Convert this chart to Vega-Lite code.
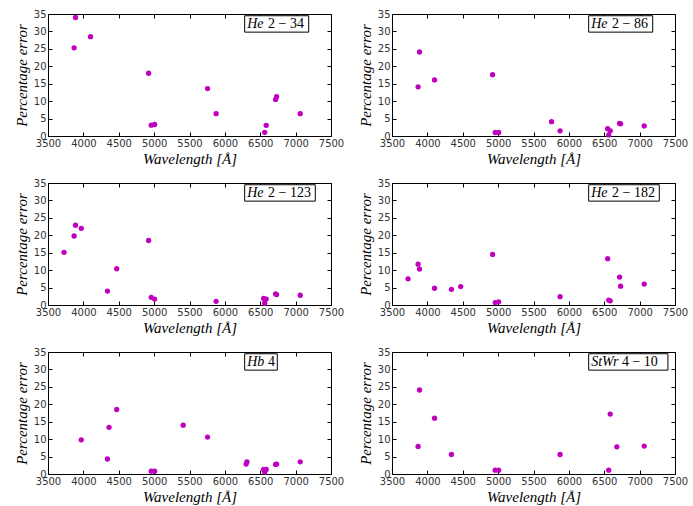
{
  "$schema": "https://vega.github.io/schema/vega-lite/v6.json",
  "background": "white",
  "padding": {"left": 13, "top": 8, "right": 5, "bottom": 0},
  "datasets": {
    "pts": [
      {"panel": "p1", "wavelength": 3869, "error": 25.3},
      {"panel": "p1", "wavelength": 3889, "error": 34.0},
      {"panel": "p1", "wavelength": 4101, "error": 28.5},
      {"panel": "p1", "wavelength": 4922, "error": 18.0},
      {"panel": "p1", "wavelength": 4959, "error": 3.1},
      {"panel": "p1", "wavelength": 5007, "error": 3.3},
      {"panel": "p1", "wavelength": 5755, "error": 13.6},
      {"panel": "p1", "wavelength": 5876, "error": 6.4},
      {"panel": "p1", "wavelength": 6563, "error": 1.05},
      {"panel": "p1", "wavelength": 6584, "error": 3.05},
      {"panel": "p1", "wavelength": 6717, "error": 10.5},
      {"panel": "p1", "wavelength": 6731, "error": 11.3},
      {"panel": "p1", "wavelength": 7065, "error": 6.4},

      {"panel": "p2", "wavelength": 3869, "error": 14.1},
      {"panel": "p2", "wavelength": 3889, "error": 24.1},
      {"panel": "p2", "wavelength": 4101, "error": 16.1},
      {"panel": "p2", "wavelength": 4922, "error": 17.6},
      {"panel": "p2", "wavelength": 4959, "error": 1.0},
      {"panel": "p2", "wavelength": 5007, "error": 1.0},
      {"panel": "p2", "wavelength": 5755, "error": 4.1},
      {"panel": "p2", "wavelength": 5876, "error": 1.5},
      {"panel": "p2", "wavelength": 6548, "error": 2.1},
      {"panel": "p2", "wavelength": 6563, "error": 0.3},
      {"panel": "p2", "wavelength": 6584, "error": 1.5},
      {"panel": "p2", "wavelength": 6717, "error": 3.6},
      {"panel": "p2", "wavelength": 6731, "error": 3.5},
      {"panel": "p2", "wavelength": 7065, "error": 2.9},

      {"panel": "p3", "wavelength": 3727, "error": 15.1},
      {"panel": "p3", "wavelength": 3869, "error": 19.8},
      {"panel": "p3", "wavelength": 3889, "error": 22.9},
      {"panel": "p3", "wavelength": 3970, "error": 22.0},
      {"panel": "p3", "wavelength": 4340, "error": 4.0},
      {"panel": "p3", "wavelength": 4471, "error": 10.4},
      {"panel": "p3", "wavelength": 4922, "error": 18.5},
      {"panel": "p3", "wavelength": 4959, "error": 2.2},
      {"panel": "p3", "wavelength": 5007, "error": 1.7},
      {"panel": "p3", "wavelength": 5876, "error": 1.05},
      {"panel": "p3", "wavelength": 6548, "error": 1.9},
      {"panel": "p3", "wavelength": 6563, "error": 0.5},
      {"panel": "p3", "wavelength": 6584, "error": 1.7},
      {"panel": "p3", "wavelength": 6717, "error": 3.2},
      {"panel": "p3", "wavelength": 6731, "error": 3.0},
      {"panel": "p3", "wavelength": 7065, "error": 2.8},

      {"panel": "p4", "wavelength": 3727, "error": 7.5},
      {"panel": "p4", "wavelength": 3869, "error": 11.7},
      {"panel": "p4", "wavelength": 3889, "error": 10.3},
      {"panel": "p4", "wavelength": 4101, "error": 4.8},
      {"panel": "p4", "wavelength": 4340, "error": 4.5},
      {"panel": "p4", "wavelength": 4471, "error": 5.3},
      {"panel": "p4", "wavelength": 4922, "error": 14.5},
      {"panel": "p4", "wavelength": 4959, "error": 0.7},
      {"panel": "p4", "wavelength": 5007, "error": 0.9},
      {"panel": "p4", "wavelength": 5876, "error": 2.4},
      {"panel": "p4", "wavelength": 6548, "error": 13.3},
      {"panel": "p4", "wavelength": 6563, "error": 1.4},
      {"panel": "p4", "wavelength": 6584, "error": 1.2},
      {"panel": "p4", "wavelength": 6717, "error": 8.0},
      {"panel": "p4", "wavelength": 6731, "error": 5.4},
      {"panel": "p4", "wavelength": 7065, "error": 6.0},

      {"panel": "p5", "wavelength": 3970, "error": 9.8},
      {"panel": "p5", "wavelength": 4340, "error": 4.3},
      {"panel": "p5", "wavelength": 4363, "error": 13.4},
      {"panel": "p5", "wavelength": 4471, "error": 18.5},
      {"panel": "p5", "wavelength": 4959, "error": 0.8},
      {"panel": "p5", "wavelength": 5007, "error": 0.8},
      {"panel": "p5", "wavelength": 5411, "error": 14.0},
      {"panel": "p5", "wavelength": 5755, "error": 10.6},
      {"panel": "p5", "wavelength": 6300, "error": 2.85},
      {"panel": "p5", "wavelength": 6312, "error": 3.5},
      {"panel": "p5", "wavelength": 6548, "error": 1.3},
      {"panel": "p5", "wavelength": 6563, "error": 0.6},
      {"panel": "p5", "wavelength": 6584, "error": 1.3},
      {"panel": "p5", "wavelength": 6717, "error": 2.75},
      {"panel": "p5", "wavelength": 6731, "error": 2.85},
      {"panel": "p5", "wavelength": 7065, "error": 3.5},

      {"panel": "p6", "wavelength": 3869, "error": 7.9},
      {"panel": "p6", "wavelength": 3889, "error": 24.1},
      {"panel": "p6", "wavelength": 4101, "error": 16.0},
      {"panel": "p6", "wavelength": 4340, "error": 5.6},
      {"panel": "p6", "wavelength": 4959, "error": 1.1},
      {"panel": "p6", "wavelength": 5007, "error": 1.1},
      {"panel": "p6", "wavelength": 5876, "error": 5.6},
      {"panel": "p6", "wavelength": 6563, "error": 1.1},
      {"panel": "p6", "wavelength": 6584, "error": 17.2},
      {"panel": "p6", "wavelength": 6678, "error": 7.8},
      {"panel": "p6", "wavelength": 7065, "error": 8.0}
    ],
    "labels": [
      {"panel": "p1", "name": "He", "num": "2 − 34"},
      {"panel": "p2", "name": "He", "num": "2 − 86"},
      {"panel": "p3", "name": "He", "num": "2 − 123"},
      {"panel": "p4", "name": "He", "num": "2 − 182"},
      {"panel": "p5", "name": "Hb", "num": "4"},
      {"panel": "p6", "name": "StWr", "num": "4 − 10"}
    ]
  },
  "config": {
    "view": {"stroke": "black", "strokeWidth": 1},
    "axis": {
      "grid": false,
      "domain": false,
      "tickSize": -4,
      "tickColor": "black",
      "tickWidth": 1,
      "labelFont": "DejaVu Sans",
      "labelFontSize": 10,
      "labelColor": "#333333",
      "labelOverlap": false,
      "labelFlush": false,
      "format": "d",
      "titleFont": "Liberation Serif",
      "titleFontStyle": "italic",
      "titleFontWeight": "normal",
      "titleFontSize": 15,
      "titleColor": "black"
    },
    "axisX": {"labelPadding": 6, "titlePadding": 3},
    "axisY": {"labelPadding": 6, "titlePadding": 4},
    "circle": {"size": 28, "color": "#bf00bf", "opacity": 1},
    "rect": {"fill": "white", "stroke": "black", "strokeWidth": 1},
    "text": {"font": "Liberation Serif", "fontSize": 14, "align": "left", "baseline": "middle", "color": "black"}
  },
  "spacing": 10,
  "vconcat": [
    {
      "spacing": 12,
      "hconcat": [
        {
          "width": 283, "height": 122,
          "resolve": {"axis": {"x": "independent", "y": "independent"}},
          "layer": [
            {"data": {"name": "pts"}, "transform": [{"filter": "datum.panel === 'p1'"}], "mark": "circle",
             "encoding": {
               "x": {"field": "wavelength", "type": "quantitative", "scale": {"domain": [3500, 7500], "nice": false}, "axis": {"title": "Wavelength [Å]", "values": [3500, 4000, 4500, 5000, 5500, 6000, 6500, 7000, 7500]}},
               "y": {"field": "error", "type": "quantitative", "scale": {"domain": [0, 35], "nice": false}, "axis": {"title": "Percentage error", "values": [0, 5, 10, 15, 20, 25, 30, 35]}}
             }},
            {"data": {"name": "labels"}, "transform": [{"filter": "datum.panel === 'p1'"}], "mark": "rect",
             "encoding": {
               "x": {"datum": 6280, "type": "quantitative", "axis": {"orient": "top", "labels": false, "title": null, "values": [3500, 4000, 4500, 5000, 5500, 6000, 6500, 7000, 7500]}},
               "x2": {"datum": 7185},
               "y": {"datum": 34.5, "type": "quantitative", "axis": {"orient": "right", "labels": false, "title": null, "values": [0, 5, 10, 15, 20, 25, 30, 35]}},
               "y2": {"datum": 29.8}
             }},
            {"data": {"name": "labels"}, "transform": [{"filter": "datum.panel === 'p1'"}], "mark": {"type": "text", "fontStyle": "italic"},
             "encoding": {"x": {"datum": 6315, "type": "quantitative", "axis": null}, "y": {"datum": 32.1, "type": "quantitative", "axis": null}, "text": {"field": "name"}}},
            {"data": {"name": "labels"}, "transform": [{"filter": "datum.panel === 'p1'"}], "mark": {"type": "text"},
             "encoding": {"x": {"datum": 6610, "type": "quantitative", "axis": null}, "y": {"datum": 32.1, "type": "quantitative", "axis": null}, "text": {"field": "num"}}}
          ]
        },
        {
          "width": 283, "height": 122,
          "resolve": {"axis": {"x": "independent", "y": "independent"}},
          "layer": [
            {"data": {"name": "pts"}, "transform": [{"filter": "datum.panel === 'p2'"}], "mark": "circle",
             "encoding": {
               "x": {"field": "wavelength", "type": "quantitative", "scale": {"domain": [3500, 7500], "nice": false}, "axis": {"title": "Wavelength [Å]", "values": [3500, 4000, 4500, 5000, 5500, 6000, 6500, 7000, 7500]}},
               "y": {"field": "error", "type": "quantitative", "scale": {"domain": [0, 35], "nice": false}, "axis": {"title": "Percentage error", "values": [0, 5, 10, 15, 20, 25, 30, 35]}}
             }},
            {"data": {"name": "labels"}, "transform": [{"filter": "datum.panel === 'p2'"}], "mark": "rect",
             "encoding": {
               "x": {"datum": 6280, "type": "quantitative", "axis": {"orient": "top", "labels": false, "title": null, "values": [3500, 4000, 4500, 5000, 5500, 6000, 6500, 7000, 7500]}},
               "x2": {"datum": 7185},
               "y": {"datum": 34.5, "type": "quantitative", "axis": {"orient": "right", "labels": false, "title": null, "values": [0, 5, 10, 15, 20, 25, 30, 35]}},
               "y2": {"datum": 29.8}
             }},
            {"data": {"name": "labels"}, "transform": [{"filter": "datum.panel === 'p2'"}], "mark": {"type": "text", "fontStyle": "italic"},
             "encoding": {"x": {"datum": 6315, "type": "quantitative", "axis": null}, "y": {"datum": 32.1, "type": "quantitative", "axis": null}, "text": {"field": "name"}}},
            {"data": {"name": "labels"}, "transform": [{"filter": "datum.panel === 'p2'"}], "mark": {"type": "text"},
             "encoding": {"x": {"datum": 6610, "type": "quantitative", "axis": null}, "y": {"datum": 32.1, "type": "quantitative", "axis": null}, "text": {"field": "num"}}}
          ]
        }
      ]
    },
    {
      "spacing": 12,
      "hconcat": [
        {
          "width": 283, "height": 122,
          "resolve": {"axis": {"x": "independent", "y": "independent"}},
          "layer": [
            {"data": {"name": "pts"}, "transform": [{"filter": "datum.panel === 'p3'"}], "mark": "circle",
             "encoding": {
               "x": {"field": "wavelength", "type": "quantitative", "scale": {"domain": [3500, 7500], "nice": false}, "axis": {"title": "Wavelength [Å]", "values": [3500, 4000, 4500, 5000, 5500, 6000, 6500, 7000, 7500]}},
               "y": {"field": "error", "type": "quantitative", "scale": {"domain": [0, 35], "nice": false}, "axis": {"title": "Percentage error", "values": [0, 5, 10, 15, 20, 25, 30, 35]}}
             }},
            {"data": {"name": "labels"}, "transform": [{"filter": "datum.panel === 'p3'"}], "mark": "rect",
             "encoding": {
               "x": {"datum": 6280, "type": "quantitative", "axis": {"orient": "top", "labels": false, "title": null, "values": [3500, 4000, 4500, 5000, 5500, 6000, 6500, 7000, 7500]}},
               "x2": {"datum": 7278},
               "y": {"datum": 34.5, "type": "quantitative", "axis": {"orient": "right", "labels": false, "title": null, "values": [0, 5, 10, 15, 20, 25, 30, 35]}},
               "y2": {"datum": 29.8}
             }},
            {"data": {"name": "labels"}, "transform": [{"filter": "datum.panel === 'p3'"}], "mark": {"type": "text", "fontStyle": "italic"},
             "encoding": {"x": {"datum": 6315, "type": "quantitative", "axis": null}, "y": {"datum": 32.1, "type": "quantitative", "axis": null}, "text": {"field": "name"}}},
            {"data": {"name": "labels"}, "transform": [{"filter": "datum.panel === 'p3'"}], "mark": {"type": "text"},
             "encoding": {"x": {"datum": 6610, "type": "quantitative", "axis": null}, "y": {"datum": 32.1, "type": "quantitative", "axis": null}, "text": {"field": "num"}}}
          ]
        },
        {
          "width": 283, "height": 122,
          "resolve": {"axis": {"x": "independent", "y": "independent"}},
          "layer": [
            {"data": {"name": "pts"}, "transform": [{"filter": "datum.panel === 'p4'"}], "mark": "circle",
             "encoding": {
               "x": {"field": "wavelength", "type": "quantitative", "scale": {"domain": [3500, 7500], "nice": false}, "axis": {"title": "Wavelength [Å]", "values": [3500, 4000, 4500, 5000, 5500, 6000, 6500, 7000, 7500]}},
               "y": {"field": "error", "type": "quantitative", "scale": {"domain": [0, 35], "nice": false}, "axis": {"title": "Percentage error", "values": [0, 5, 10, 15, 20, 25, 30, 35]}}
             }},
            {"data": {"name": "labels"}, "transform": [{"filter": "datum.panel === 'p4'"}], "mark": "rect",
             "encoding": {
               "x": {"datum": 6280, "type": "quantitative", "axis": {"orient": "top", "labels": false, "title": null, "values": [3500, 4000, 4500, 5000, 5500, 6000, 6500, 7000, 7500]}},
               "x2": {"datum": 7278},
               "y": {"datum": 34.5, "type": "quantitative", "axis": {"orient": "right", "labels": false, "title": null, "values": [0, 5, 10, 15, 20, 25, 30, 35]}},
               "y2": {"datum": 29.8}
             }},
            {"data": {"name": "labels"}, "transform": [{"filter": "datum.panel === 'p4'"}], "mark": {"type": "text", "fontStyle": "italic"},
             "encoding": {"x": {"datum": 6315, "type": "quantitative", "axis": null}, "y": {"datum": 32.1, "type": "quantitative", "axis": null}, "text": {"field": "name"}}},
            {"data": {"name": "labels"}, "transform": [{"filter": "datum.panel === 'p4'"}], "mark": {"type": "text"},
             "encoding": {"x": {"datum": 6610, "type": "quantitative", "axis": null}, "y": {"datum": 32.1, "type": "quantitative", "axis": null}, "text": {"field": "num"}}}
          ]
        }
      ]
    },
    {
      "spacing": 12,
      "hconcat": [
        {
          "width": 283, "height": 122,
          "resolve": {"axis": {"x": "independent", "y": "independent"}},
          "layer": [
            {"data": {"name": "pts"}, "transform": [{"filter": "datum.panel === 'p5'"}], "mark": "circle",
             "encoding": {
               "x": {"field": "wavelength", "type": "quantitative", "scale": {"domain": [3500, 7500], "nice": false}, "axis": {"title": "Wavelength [Å]", "values": [3500, 4000, 4500, 5000, 5500, 6000, 6500, 7000, 7500]}},
               "y": {"field": "error", "type": "quantitative", "scale": {"domain": [0, 35], "nice": false}, "axis": {"title": "Percentage error", "values": [0, 5, 10, 15, 20, 25, 30, 35]}}
             }},
            {"data": {"name": "labels"}, "transform": [{"filter": "datum.panel === 'p5'"}], "mark": "rect",
             "encoding": {
               "x": {"datum": 6280, "type": "quantitative", "axis": {"orient": "top", "labels": false, "title": null, "values": [3500, 4000, 4500, 5000, 5500, 6000, 6500, 7000, 7500]}},
               "x2": {"datum": 6741},
               "y": {"datum": 34.5, "type": "quantitative", "axis": {"orient": "right", "labels": false, "title": null, "values": [0, 5, 10, 15, 20, 25, 30, 35]}},
               "y2": {"datum": 29.8}
             }},
            {"data": {"name": "labels"}, "transform": [{"filter": "datum.panel === 'p5'"}], "mark": {"type": "text", "fontStyle": "italic"},
             "encoding": {"x": {"datum": 6315, "type": "quantitative", "axis": null}, "y": {"datum": 32.1, "type": "quantitative", "axis": null}, "text": {"field": "name"}}},
            {"data": {"name": "labels"}, "transform": [{"filter": "datum.panel === 'p5'"}], "mark": {"type": "text"},
             "encoding": {"x": {"datum": 6610, "type": "quantitative", "axis": null}, "y": {"datum": 32.1, "type": "quantitative", "axis": null}, "text": {"field": "num"}}}
          ]
        },
        {
          "width": 283, "height": 122,
          "resolve": {"axis": {"x": "independent", "y": "independent"}},
          "layer": [
            {"data": {"name": "pts"}, "transform": [{"filter": "datum.panel === 'p6'"}], "mark": "circle",
             "encoding": {
               "x": {"field": "wavelength", "type": "quantitative", "scale": {"domain": [3500, 7500], "nice": false}, "axis": {"title": "Wavelength [Å]", "values": [3500, 4000, 4500, 5000, 5500, 6000, 6500, 7000, 7500]}},
               "y": {"field": "error", "type": "quantitative", "scale": {"domain": [0, 35], "nice": false}, "axis": {"title": "Percentage error", "values": [0, 5, 10, 15, 20, 25, 30, 35]}}
             }},
            {"data": {"name": "labels"}, "transform": [{"filter": "datum.panel === 'p6'"}], "mark": "rect",
             "encoding": {
               "x": {"datum": 6280, "type": "quantitative", "axis": {"orient": "top", "labels": false, "title": null, "values": [3500, 4000, 4500, 5000, 5500, 6000, 6500, 7000, 7500]}},
               "x2": {"datum": 7400},
               "y": {"datum": 34.5, "type": "quantitative", "axis": {"orient": "right", "labels": false, "title": null, "values": [0, 5, 10, 15, 20, 25, 30, 35]}},
               "y2": {"datum": 29.8}
             }},
            {"data": {"name": "labels"}, "transform": [{"filter": "datum.panel === 'p6'"}], "mark": {"type": "text", "fontStyle": "italic"},
             "encoding": {"x": {"datum": 6315, "type": "quantitative", "axis": null}, "y": {"datum": 32.1, "type": "quantitative", "axis": null}, "text": {"field": "name"}}},
            {"data": {"name": "labels"}, "transform": [{"filter": "datum.panel === 'p6'"}], "mark": {"type": "text"},
             "encoding": {"x": {"datum": 6750, "type": "quantitative", "axis": null}, "y": {"datum": 32.1, "type": "quantitative", "axis": null}, "text": {"field": "num"}}}
          ]
        }
      ]
    }
  ]
}
